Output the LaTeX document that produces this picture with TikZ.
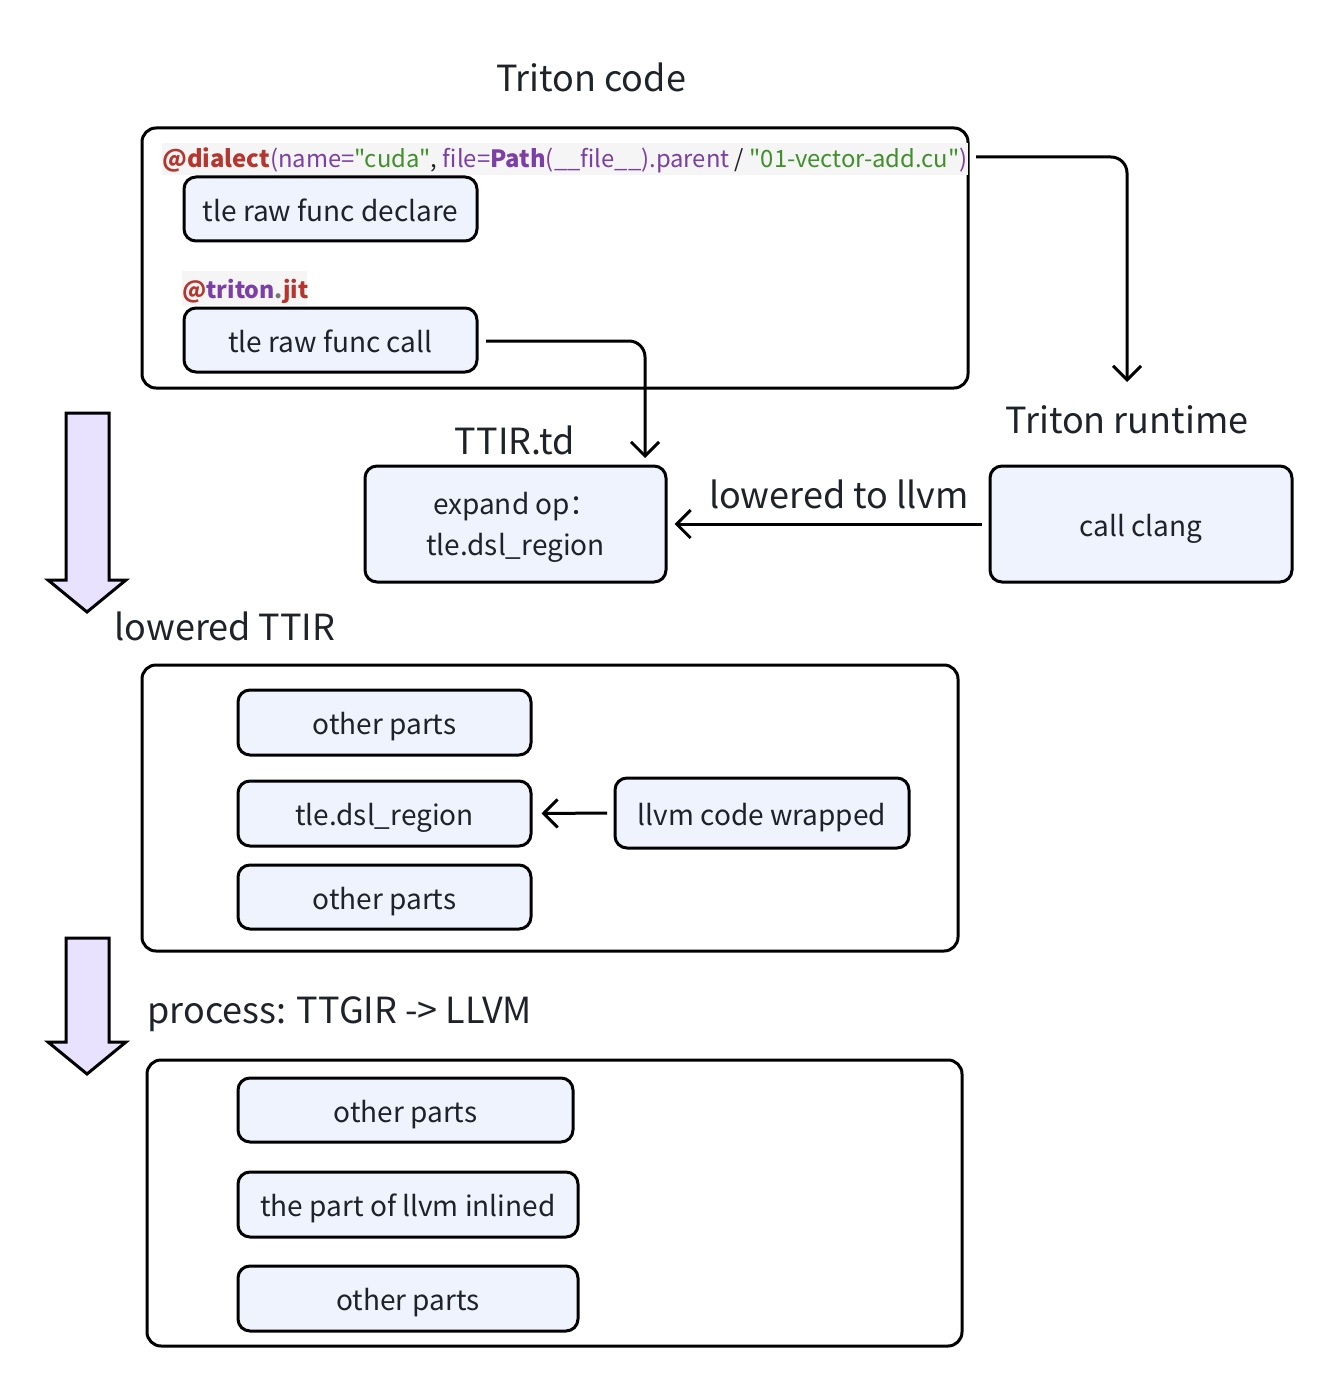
\documentclass[tikz,border=0pt]{standalone}
\usepackage{fontspec}
\setmainfont{Noto Sans CJK SC}
\newfontfamily\codefont[Ligatures=TeXOff]{Noto Sans CJK SC}
\usetikzlibrary{arrows.meta}
\definecolor{txt}{HTML}{1F2329}
\definecolor{boxfill}{HTML}{EEF3FD}
\definecolor{arrfill}{HTML}{E9E2FF}
\definecolor{cred}{HTML}{B5352F}
\definecolor{cpur}{HTML}{7B3FA6}
\definecolor{cgreen}{HTML}{3F8F2A}
\definecolor{cgray}{HTML}{777777}
\definecolor{codebg}{HTML}{F5F5F5}
\begin{document}
\begin{tikzpicture}[x=0.5pt,y=-0.5pt,
  every node/.style={text=txt},
  outerbox/.style={draw=black,line width=1.5pt,rounded corners=7pt},
  itembox/.style={draw=black,line width=1.5pt,rounded corners=6pt,fill=boxfill,font=\fontsize{14}{17}\selectfont,inner sep=0pt,text height=12pt,text depth=0pt},
  heading/.style={font=\fontsize{18}{22}\selectfont,inner sep=0pt},
  conn/.style={line width=1.5pt,rounded corners=8pt,-{Straight Barb[length=7pt,width=14pt,line width=1.5pt]}},
  bigarrow/.style={draw=black,line width=1.5pt,fill=arrfill,line join=miter}
]
\useasboundingbox (0,0) rectangle (1341,1396);

% ---- Triton code block
\node[heading] (title) at (591,77) {Triton code};
\draw[outerbox] (142,128) rectangle (968,388);
\fill[codebg] (162,143) rectangle (968,175);
\node[anchor=base west,inner sep=0pt,font=\codefont\fontsize{11.9}{15}\selectfont] (code) at (162,168)
 {\textcolor{cred}{\bfseries @dialect}\textcolor{cpur}{(name=}\textcolor{cgreen}{"cuda"}\textcolor{txt}{,~}\textcolor{cpur}{file=}\textcolor{cpur}{\bfseries Path}\textcolor{cpur}{(\_\_file\_\_).parent}\textcolor{txt}{~/~}\textcolor{cgreen}{"01-vector-add.cu"}\textcolor{cpur}{)}};
\node[itembox,minimum width=146.5pt,minimum height=32pt] (decl) at (330.5,209) {tle raw func declare};
\fill[codebg] (182,271) rectangle (307,305);
\node[anchor=base west,inner sep=0pt,font=\fontsize{11.6}{14}\selectfont\bfseries] (jit) at (182,298)
 {\textcolor{cred}{@}\textcolor{cpur}{triton}\textcolor{cgray}{.}\textcolor{cred}{jit}};
\node[itembox,minimum width=146.5pt,minimum height=32pt] (call) at (330.5,340) {tle raw func call};

% ---- TTIR.td / runtime
\node[heading] (ttirtd) at (515,440) {TTIR.td};
\node[itembox,minimum width=150.5pt,minimum height=58pt,align=center,text height={},text depth=0pt] (expand) at (515.5,524) {expand op：\\[3.5pt]tle.dsl\_region};
\node[heading] (runtime) at (1127,420) {Triton runtime};
\node[itembox,minimum width=151pt,minimum height=58pt] (clang) at (1141,524) {call clang};
\node[heading] (lowlabel) at (839,494) {lowered to llvm};

\coordinate (callout) at (486,341);
\coordinate (codeout) at (976,157);
\coordinate (clangin) at (982,524);
\draw[conn] (callout) -- (645,341) -- (645,458);
\draw[conn] (codeout) -- (1127,157) -- (1127,382);
\draw[conn] (clangin) -- ([xshift=3.5pt]expand.east);

% ---- big arrow 1
\draw[bigarrow] (66,413) -- (109,413) -- (109,580) -- (126,580) -- (87,612) -- (48,580) -- (66,580) -- cycle;
\node[heading,anchor=west] (lowttir) at (114,626) {lowered TTIR};

% ---- lowered TTIR block
\draw[outerbox] (142,665) rectangle (958,951);
\node[itembox,minimum width=146.5pt,minimum height=32.5pt] (op1) at (384.5,722.5) {other parts};
\node[itembox,minimum width=146.5pt,minimum height=32.5pt] (dsl) at (384.5,813.5) {tle.dsl\_region};
\node[itembox,minimum width=146.5pt,minimum height=32pt] (op2) at (384.5,897) {other parts};
\node[itembox,minimum width=147pt,minimum height=35pt] (wrap) at (762,813) {llvm code wrapped};
\coordinate (wrapin) at (607,813);
\draw[conn] (wrapin) -- ([xshift=4.5pt]dsl.east);

% ---- big arrow 2
\draw[bigarrow] (66,938) -- (109,938) -- (109,1042) -- (126,1042) -- (87,1074) -- (48,1042) -- (66,1042) -- cycle;
\node[heading,anchor=west] (proc) at (147,1014) {process: TTGIR -> LLVM};

% ---- process block
\draw[outerbox] (147,1060) rectangle (962,1346);
\node[itembox,minimum width=167.5pt,minimum height=32pt] (p1) at (405.5,1110) {other parts};
\node[itembox,minimum width=170pt,minimum height=32.5pt] (p2) at (408,1204.5) {the part of llvm inlined};
\node[itembox,minimum width=170pt,minimum height=32.5pt] (p3) at (408,1298.5) {other parts};
\end{tikzpicture}
\end{document}
